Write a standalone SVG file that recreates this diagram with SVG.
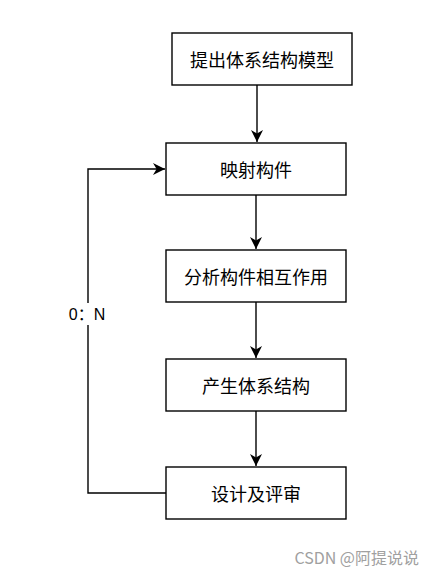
<svg xmlns="http://www.w3.org/2000/svg" width="435" height="574" viewBox="0 0 435 574">
<defs>
<style>
.box{fill:#fff;stroke:#000;stroke-width:1.4}
.t{font-family:"Noto Sans CJK SC","Liberation Sans",sans-serif;font-size:18px;fill:#000;text-anchor:middle;dominant-baseline:central}
.edge{fill:none;stroke:#000;stroke-width:1.4}
</style>
<marker id="ah" viewBox="0 0 10 10" refX="10" refY="5" markerWidth="12" markerHeight="12" markerUnits="userSpaceOnUse" orient="auto">
<path d="M0,0 L10,5 L0,10 L3,5 Z" fill="#000"/>
</marker>
</defs>
<rect width="435" height="574" fill="#fff"/>
<g id="connectors">
<path class="edge" d="M257,85 V142" marker-end="url(#ah)"/>
<path class="edge" d="M256,195 V249" marker-end="url(#ah)"/>
<path class="edge" d="M256,302 V358" marker-end="url(#ah)"/>
<path class="edge" d="M256,411 V466" marker-end="url(#ah)"/>
<path class="edge" d="M166,493 H88 V169 H165" marker-end="url(#ah)"/>
<rect x="64" y="303" width="48" height="22" fill="#fff"/>
<text x="87" y="314" style="font-family:'Liberation Sans','Noto Sans CJK SC',sans-serif;font-size:16px;fill:#000;text-anchor:middle;dominant-baseline:central">0：N</text>
</g>
<g id="n1"><rect class="box" x="172" y="33" width="180" height="52"/><text class="t" x="262" y="59">提出体系结构模型</text></g>
<g id="n2"><rect class="box" x="166" y="143" width="180" height="52"/><text class="t" x="256" y="169">映射构件</text></g>
<g id="n3"><rect class="box" x="166" y="250" width="180" height="52"/><text class="t" x="256" y="276">分析构件相互作用</text></g>
<g id="n4"><rect class="box" x="166" y="359" width="180" height="52"/><text class="t" x="256" y="385">产生体系结构</text></g>
<g id="n5"><rect class="box" x="166" y="467" width="180" height="52"/><text class="t" x="256" y="493">设计及评审</text></g>
<text x="419" y="557" style="font-family:'Noto Sans CJK SC','Liberation Sans',sans-serif;font-size:16px;fill:#a0a0a0;text-anchor:end;dominant-baseline:central">CSDN @阿提说说</text>
</svg>
